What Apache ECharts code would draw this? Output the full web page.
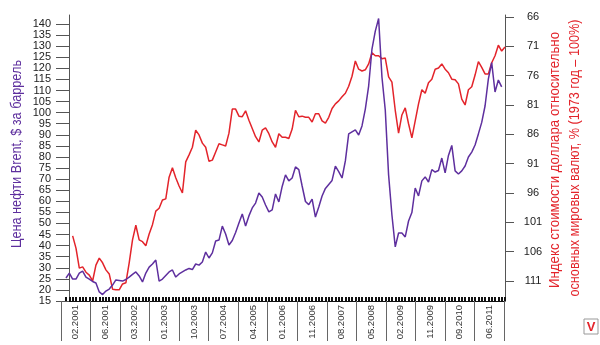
<!DOCTYPE html>
<html>
<head>
<meta charset="utf-8">
<script src="https://cdn.jsdelivr.net/npm/echarts@6/dist/echarts.min.js"></script>
<style>
  html, body { margin: 0; padding: 0; background: #fff; }
  #chart { width: 600px; height: 345px; }
</style>
</head>
<body>
<div id="chart"></div>
<script>
// Date labels along the bottom axis
const dateLabels = ['02.2001', '06.2001', '03.2002', '01.2003', '10.2003', '07.2004', '04.2005',
  '01.2006', '11.2006', '08.2007', '05.2008', '02.2009', '11.2009', '09.2010', '06.2011'];

// Brent crude price, $ per barrel (evenly spaced samples, 2001 - mid 2011)
const brent = [
  25.4, 27.6, 24.9, 24.9, 27.6, 28.5, 25.8, 24.9, 23.8, 23.1,
  19.1, 17.9, 19.5, 20.4, 22.2, 24.5, 24.3, 24.0, 24.7, 25.8,
  27.0, 28.1, 26.3, 23.6, 27.6, 30.3, 31.7, 33.5, 24.0, 24.9,
  26.5, 28.1, 29.0, 25.8, 27.2, 28.1, 29.0, 29.7, 29.2, 31.7,
  31.2, 32.6, 37.1, 34.4, 36.7, 42.1, 42.5, 48.8, 45.2, 40.3,
  42.3, 45.9, 50.2, 54.3, 48.8, 53.4, 57.0, 59.2, 63.7, 61.9,
  58.3, 55.2, 56.1, 63.3, 59.7, 66.7, 71.9, 69.2, 70.5, 75.5,
  74.3, 66.9, 59.9, 58.5, 61.0, 52.9, 57.4, 62.4, 65.8, 67.6,
  69.4, 75.9, 73.4, 70.5, 78.2, 90.4, 91.3, 92.2, 89.9, 94.0,
  101.6, 112.0, 128.7, 136.8, 142.5, 116.1, 101.2, 71.9, 53.8, 39.4,
  45.7, 45.7, 43.9, 51.1, 54.9, 66.0, 62.4, 69.2, 71.0, 68.7,
  74.3, 73.2, 73.9, 79.5, 72.8, 80.7, 85.2, 73.7, 72.3, 73.7,
  75.9, 80.0, 82.2, 85.4, 90.4, 95.6, 103.0, 115.2, 122.6, 109.3,
  114.7, 111.6, null
];

// Dollar index against major world currencies, % (1973 = 100)
const dollarIndex = [
  null, null, 103.3, 105.4, 108.8, 108.6, 109.5, 110.0, 111.0, 108.3,
  107.1, 107.9, 109.1, 109.8, 112.4, 112.5, 112.5, 111.5, 111.3, 107.9,
  104.0, 101.5, 104.0, 104.3, 105.0, 103.0, 101.4, 99.1, 98.6, 97.2,
  97.0, 93.3, 91.7, 93.4, 94.8, 96.0, 90.7, 89.5, 88.2, 85.3,
  86.1, 87.5, 88.2, 90.6, 90.4, 89.0, 87.6, 87.8, 88.0, 85.8,
  81.7, 81.7, 82.9, 83.0, 82.0, 83.6, 85.0, 86.4, 87.3, 85.3,
  84.9, 85.9, 87.3, 88.2, 85.9, 86.5, 86.5, 86.7, 85.1, 81.9,
  83.0, 82.9, 83.1, 83.1, 83.9, 82.5, 82.5, 83.7, 84.1, 83.1,
  81.6, 80.8, 80.3, 79.6, 79.0, 77.8, 76.1, 73.5, 74.9, 75.2,
  75.0, 74.0, 72.1, 72.6, 72.6, 73.1, 73.0, 76.2, 77.1, 81.9,
  85.8, 82.7, 81.5, 84.2, 86.6, 83.7, 80.8, 78.4, 79.0, 77.2,
  76.6, 74.9, 74.7, 74.0, 74.9, 75.5, 76.6, 76.7, 77.4, 80.0,
  81.0, 78.4, 77.9, 75.9, 73.6, 74.6, 75.7, 75.7, 73.8, 72.6,
  70.8, 71.8, 71.1
];

// Tick values of the two value axes
const brentTicks = [15, 20, 25, 30, 35, 40, 45, 50, 55, 60, 65, 70, 75, 80, 85, 90,
  95, 100, 105, 110, 115, 120, 125, 130, 135, 140];
const indexTicks = [66, 71, 76, 81, 86, 91, 96, 101, 106, 111];

// Axis titles
const brentTitle = 'Цена нефти Brent, $ за баррель';
const indexTitle1 = 'Индекс стоимости доллара относительно';
const indexTitle2 = 'основных мировых валют, % (1973 год – 100%)';

const sampleSlots = brent.map((_, i) => String(i));

const PURPLE = '#5e2f9e';
const RED = '#e3242b';
const AXIS = '#555';
const SANS = "'Liberation Sans', Arial, sans-serif";
const TITLE_FONT = '15px ' + SANS;

// Horizontal squeeze factor so a title spans the wanted length (condensed look)
const measureCtx = document.createElement('canvas').getContext('2d');
function squeeze(text, font, span) {
  measureCtx.font = font;
  return span / measureCtx.measureText(text).width;
}

function verticalTitle(text, x, y, span, color) {
  return {
    type: 'text',
    x: x, y: y,
    rotation: Math.PI / 2,
    scaleX: squeeze(text, TITLE_FONT, span),
    style: {
      text: text,
      fill: color,
      font: TITLE_FONT,
      align: 'center',
      verticalAlign: 'middle'
    }
  };
}

const chart = echarts.init(document.getElementById('chart'), null, { renderer: 'canvas' });

chart.setOption({
  animation: false,
  backgroundColor: '#fff',
  grid: [
    // plot area with both value axes
    { left: 66, right: 95, top: 15, bottom: 44 },
    // band of date labels with separators under the plot
    { left: 61, right: 96, top: 15, bottom: 44 }
  ],
  xAxis: [
    {
      type: 'category',
      gridIndex: 0,
      data: sampleSlots,
      boundaryGap: false,
      axisLine: { show: true, lineStyle: { color: '#111', width: 1 } },
      axisTick: { show: true, interval: 0, inside: true, length: 4, lineStyle: { color: '#111', width: 2 } },
      axisLabel: { show: false },
      splitLine: { show: false }
    },
    {
      type: 'category',
      gridIndex: 1,
      data: dateLabels,
      boundaryGap: true,
      position: 'bottom',
      axisLine: { show: false },
      axisTick: { show: true, length: 40, lineStyle: { color: '#666', width: 1 } },
      axisLabel: { rotate: 90, margin: 4, fontSize: 9.5, color: '#333', fontFamily: SANS },
      splitLine: { show: false }
    }
  ],
  yAxis: [
    {
      type: 'value',
      gridIndex: 0,
      position: 'left',
      min: 15,
      max: 144.06,
      offset: -3,
      axisLine: { show: true, lineStyle: { color: AXIS, width: 1 } },
      axisTick: { show: true, customValues: brentTicks, length: 13, lineStyle: { color: AXIS } },
      axisLabel: { customValues: brentTicks, margin: 18, fontSize: 11, color: '#222', fontFamily: SANS },
      splitLine: { show: false }
    },
    {
      type: 'value',
      gridIndex: 0,
      position: 'right',
      inverse: true,
      min: 65.66,
      max: 114.41,
      axisLine: { show: true, lineStyle: { color: AXIS, width: 1 } },
      axisTick: { show: true, customValues: indexTicks, length: 9, lineStyle: { color: AXIS } },
      axisLabel: { customValues: indexTicks, margin: 28, align: 'center', fontSize: 11, color: '#222', fontFamily: SANS },
      splitLine: { show: false }
    },
    {
      type: 'value',
      gridIndex: 1,
      show: false
    }
  ],
  series: [
    {
      name: 'Индекс доллара',
      type: 'line',
      xAxisIndex: 0,
      yAxisIndex: 1,
      data: dollarIndex,
      showSymbol: false,
      connectNulls: false,
      lineStyle: { color: RED, width: 1.5 },
      itemStyle: { color: RED }
    },
    {
      name: 'Brent',
      type: 'line',
      xAxisIndex: 0,
      yAxisIndex: 0,
      data: brent,
      showSymbol: false,
      connectNulls: false,
      lineStyle: { color: PURPLE, width: 1.5 },
      itemStyle: { color: PURPLE }
    }
  ],
  graphic: [
    verticalTitle(brentTitle, 17, 154, 188, PURPLE),
    verticalTitle(indexTitle1, 555, 160, 256, RED),
    verticalTitle(indexTitle2, 575, 158, 277, RED),
    {
      type: 'rect',
      shape: { x: 584, y: 319, width: 14, height: 15 },
      style: { fill: '#fff', stroke: '#999', lineWidth: 1 }
    },
    {
      type: 'text',
      x: 591, y: 327,
      style: {
        text: 'V',
        fill: RED,
        font: 'bold 13px ' + SANS,
        align: 'center',
        verticalAlign: 'middle'
      }
    }
  ]
});
</script>
</body>
</html>
